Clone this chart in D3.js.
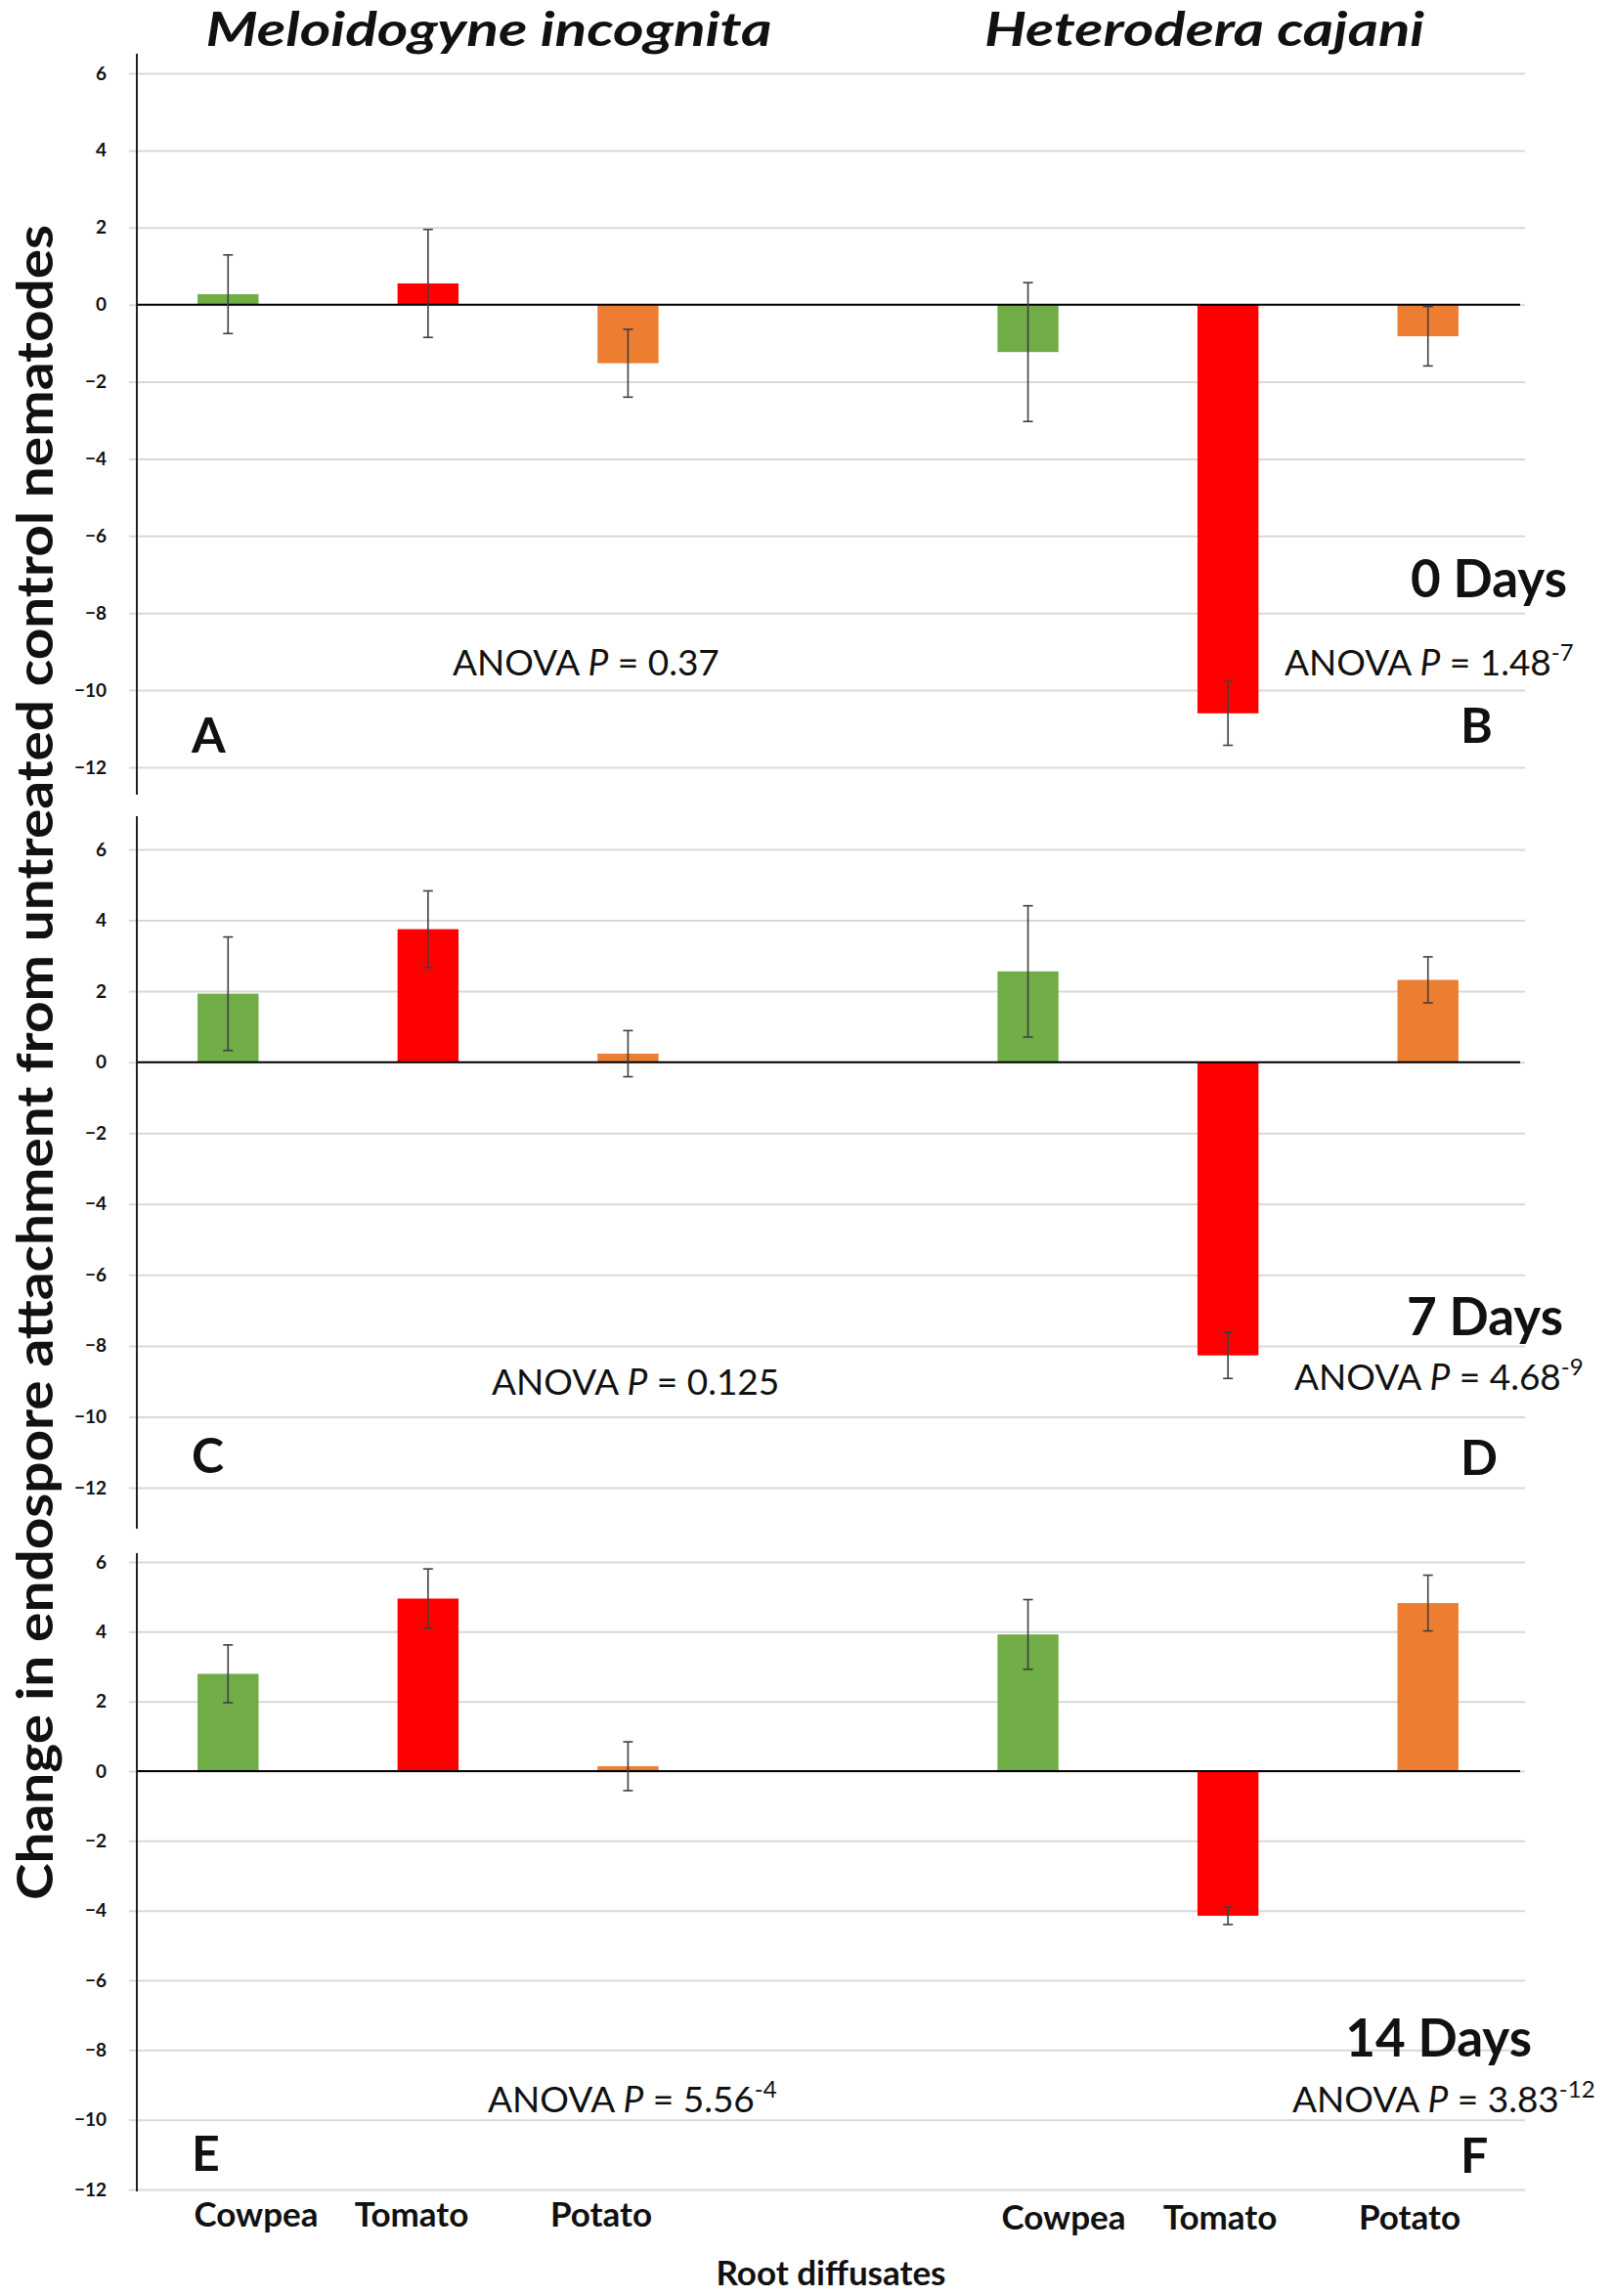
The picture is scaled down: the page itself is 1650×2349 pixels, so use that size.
<!DOCTYPE html>
<html>
<head>
<meta charset="utf-8">
<script src="https://cdn.jsdelivr.net/npm/d3@7"></script>
<style>
  body { margin: 0; background: #fff; }
  text { font-family: Lato, "Open Sans", sans-serif; }
</style>
</head>
<body>
<svg id="chart" width="1650" height="2349"></svg>
<script>
// categories and series
const crops = ["Cowpea", "Tomato", "Potato"];
const species = ["Meloidogyne incognita", "Heterodera cajani"];
const days = ["0 Days", "7 Days", "14 Days"];
const panelLetters = [["A", "B"], ["C", "D"], ["E", "F"]];
const yTicks = [6, 4, 2, 0, -2, -4, -6, -8, -10, -12];

// mean change and error per panel (Cowpea, Tomato, Potato)
const mi0 = [0.27, 0.55, -1.52], mi0Err = [1.02, 1.40, 0.88];
const hc0 = [-1.23, -10.6, -0.82], hc0Err = [1.80, 0.83, 0.77];
const mi7 = [1.93, 3.75, 0.24], mi7Err = [1.60, 1.08, 0.65];
const hc7 = [2.56, -8.27, 2.32], hc7Err = [1.85, 0.65, 0.65];
const mi14 = [2.79, 4.95, 0.14], mi14Err = [0.83, 0.85, 0.70];
const hc14 = [3.92, -4.15, 4.82], hc14Err = [1.00, 0.25, 0.80];

// ANOVA p values: [mantissa, exponent]
const pLeft = [["0.37", ""], ["0.125", ""], ["5.56", "-4"]];
const pRight = [["1.48", "-7"], ["4.68", "-9"], ["3.83", "-12"]];

const colors = { Cowpea: "#70ad47", Tomato: "#ff0000", Potato: "#ed7d31" };

const svg = d3.select("#chart");

// layout of each of the three stacked panels
const panels = [
    { top: 75, bottom: 785, axTop: 55, axBot: 813, mi: mi0, miE: mi0Err, hc: hc0, hcE: hc0Err,
      aL: [463, 691], aR: [1314, 691], day: [1603, 611], letL: 770, letR: 760 },
    { top: 869, bottom: 1522, axTop: 835, axBot: 1564, mi: mi7, miE: mi7Err, hc: hc7, hcE: hc7Err,
      aL: [503, 1427], aR: [1324, 1422], day: [1599, 1366], letL: 1507, letR: 1509 },
    { top: 1598, bottom: 2240, axTop: 1589, axBot: 2242, mi: mi14, miE: mi14Err, hc: hc14, hcE: hc14Err,
      aL: [499, 2161], aR: [1322, 2161], day: [1567, 2104], letL: 2221, letR: 2223 }
];

// 7 slots: three crops, an empty gap, three crops
const slots = crops.map(c => "M " + c).concat(["gap"], crops.map(c => "H " + c));
const x = d3.scaleBand().domain(slots).range([131, 1563]).padding(0);
const barW = x.bandwidth() * 0.305;

const gridLeft = 132, gridRight = 1560, axisX = 140;

panels.forEach((p, i) => {
    const y = d3.scaleLinear().domain([-12, 6]).range([p.bottom, p.top]);
    const g = svg.append("g");

    // gridlines + tick labels
    const ax = g.append("g")
        .attr("transform", `translate(${gridLeft},0)`)
        .call(d3.axisLeft(y).tickValues(yTicks)
            .tickSizeInner(-(gridRight - gridLeft)).tickSizeOuter(0).tickPadding(23));
    ax.select(".domain").remove();
    ax.selectAll("line").attr("stroke", "#d9d9d9").attr("stroke-width", 2);
    ax.selectAll("text")
        .attr("fill", "#111")
        .style("font-size", "19px")
        .style("font-weight", "bold")
        .style("font-family", "Lato, sans-serif");

    // bars
    const rows = crops.map((c, j) => ({ key: "M " + c, crop: c, v: p.mi[j], e: p.miE[j] }))
        .concat(crops.map((c, j) => ({ key: "H " + c, crop: c, v: p.hc[j], e: p.hcE[j] })));

    g.selectAll(".bar").data(rows).enter().append("rect")
        .attr("class", "bar")
        .attr("x", d => x(d.key) + x.bandwidth() / 2 - barW / 2)
        .attr("width", barW)
        .attr("y", d => y(Math.max(0, d.v)))
        .attr("height", d => Math.abs(y(d.v) - y(0)))
        .attr("fill", d => colors[d.crop]);

    // zero line and y axis line
    g.append("line")
        .attr("x1", axisX).attr("x2", 1555)
        .attr("y1", y(0)).attr("y2", y(0))
        .attr("stroke", "#000").attr("stroke-width", 2);
    g.append("line")
        .attr("x1", axisX).attr("x2", axisX)
        .attr("y1", p.axTop).attr("y2", p.axBot)
        .attr("stroke", "#222").attr("stroke-width", 2);

    // error bars
    const eb = g.selectAll(".err").data(rows).enter().append("g").attr("class", "err")
        .attr("stroke", "#404040").attr("stroke-width", 1.6);
    const cx = d => x(d.key) + x.bandwidth() / 2;
    eb.append("line").attr("x1", cx).attr("x2", cx)
        .attr("y1", d => y(d.v + d.e)).attr("y2", d => y(d.v - d.e));
    eb.append("line").attr("x1", d => cx(d) - 5).attr("x2", d => cx(d) + 5)
        .attr("y1", d => y(d.v + d.e)).attr("y2", d => y(d.v + d.e));
    eb.append("line").attr("x1", d => cx(d) - 5).attr("x2", d => cx(d) + 5)
        .attr("y1", d => y(d.v - d.e)).attr("y2", d => y(d.v - d.e));

    // ANOVA texts
    function anova(pos, pv) {
        const t = g.append("text")
            .attr("x", pos[0]).attr("y", pos[1])
            .style("font-size", "37px").attr("fill", "#111");
        t.append("tspan").text("ANOVA ");
        t.append("tspan").style("font-style", "italic").text("P");
        t.append("tspan").text(" = " + pv[0]);
        if (pv[1]) t.append("tspan").attr("dy", -15).style("font-size", "24px").text(pv[1]);
    }
    anova(p.aL, pLeft[i]);
    anova(p.aR, pRight[i]);

    // day label
    g.append("text")
        .attr("x", p.day[0]).attr("y", p.day[1])
        .attr("text-anchor", "end")
        .style("font-size", "53px").style("font-weight", "bold")
        .attr("fill", "#111")
        .text(days[i]);

    // panel letters
    g.append("text").attr("x", 196).attr("y", p.letL)
        .style("font-size", "50px").style("font-weight", "bold").attr("fill", "#111")
        .text(panelLetters[i][0]);
    g.append("text").attr("x", 1494).attr("y", p.letR)
        .style("font-size", "50px").style("font-weight", "bold").attr("fill", "#111")
        .text(panelLetters[i][1]);
});

// species titles
svg.append("text").attr("x", 500).attr("y", 47).attr("text-anchor", "middle")
    .attr("textLength", 579).attr("lengthAdjust", "spacingAndGlyphs")
    .style("font-size", "47px").style("font-weight", "bold").style("font-style", "italic")
    .attr("fill", "#111").text(species[0]);
svg.append("text").attr("x", 1232).attr("y", 47).attr("text-anchor", "middle")
    .attr("textLength", 450).attr("lengthAdjust", "spacingAndGlyphs")
    .style("font-size", "47px").style("font-weight", "bold").style("font-style", "italic")
    .attr("fill", "#111").text(species[1]);

// category labels under the bottom panel
const catLeft = [262, 421, 615], catRight = [1088, 1248, 1442];
[[catLeft, 2278], [catRight, 2281]].forEach(([xs, yy]) => {
    svg.selectAll(null).data(crops).enter().append("text")
        .attr("x", (d, j) => xs[j]).attr("y", yy)
        .attr("text-anchor", "middle")
        .style("font-size", "35px").style("font-weight", "bold")
        .attr("fill", "#111")
        .text(d => d);
});

// x axis title
svg.append("text").attr("x", 850).attr("y", 2338).attr("text-anchor", "middle")
    .style("font-size", "35px").style("font-weight", "bold").attr("fill", "#111")
    .text("Root diffusates");

// y axis title
svg.append("text")
    .attr("transform", "translate(54,1087) rotate(-90)")
    .attr("text-anchor", "middle")
    .attr("textLength", 1714).attr("lengthAdjust", "spacingAndGlyphs")
    .style("font-size", "52px").style("font-weight", "bold").attr("fill", "#111")
    .text("Change in endospore attachment from untreated control nematodes");
</script>
</body>
</html>
